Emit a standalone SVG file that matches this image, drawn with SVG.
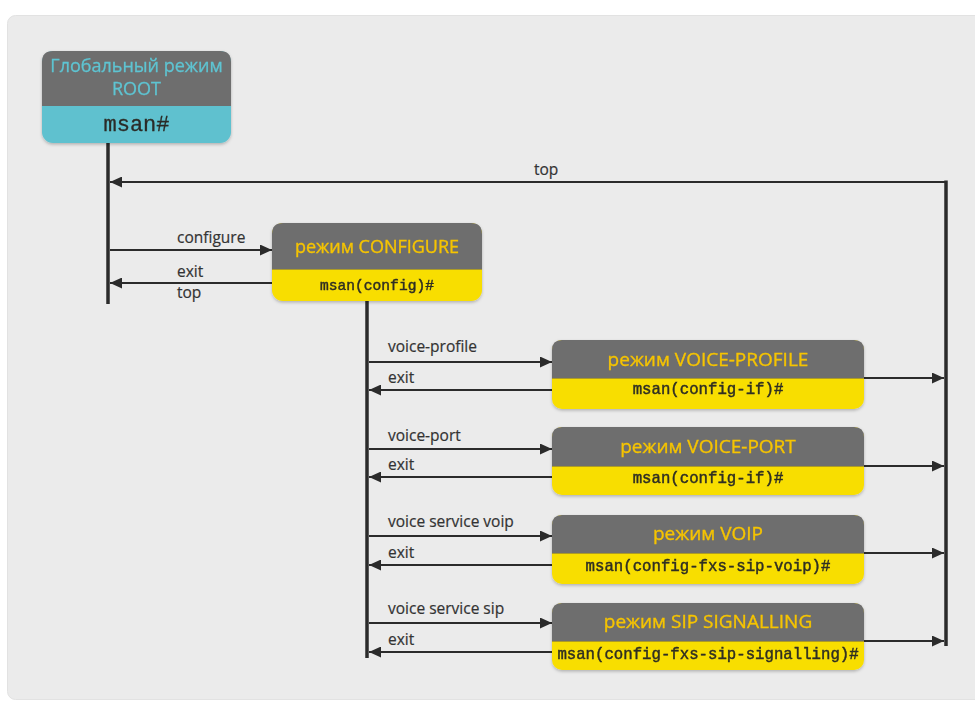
<svg xmlns="http://www.w3.org/2000/svg" width="975" height="702" viewBox="0 0 975 702">
<defs>
<marker id="ah" markerUnits="userSpaceOnUse" markerWidth="13" markerHeight="11" refX="12" refY="5.5" orient="auto">
<path d="M0,0 L12,5.5 L0,11 z" fill="#2b2b2b"/>
</marker>
<filter id="sh" x="-10%" y="-10%" width="120%" height="130%">
<feDropShadow dx="0" dy="1.5" stdDeviation="1.5" flood-color="#000" flood-opacity="0.25"/>
</filter>
<style>
.hdr{fill:#6e6e6e}
.yel{fill:#f8de06}
.tea{fill:#5fc1cf}
.sep{stroke:#7a7040;stroke-width:1;opacity:0.6}
.ht{font-family:"Open Sans","Liberation Sans",sans-serif;font-size:19px;fill:#f6c400;stroke:#f6c400;stroke-width:0.35;text-anchor:middle}
.rt{font-family:"Open Sans","Liberation Sans",sans-serif;font-size:18px;fill:#5ec4d2;stroke:#5ec4d2;stroke-width:0.3;text-anchor:middle}
.mono{font-family:"Liberation Mono","DejaVu Sans Mono",monospace;font-size:15.7px;fill:#2e2e22;stroke:#2e2e22;stroke-width:0.45;text-anchor:middle}
.lbl{font-family:"Open Sans","Liberation Sans",sans-serif;font-size:15.5px;fill:#333;stroke:#333;stroke-width:0.2}
.bar{stroke:#2b2b2b;stroke-width:3.5;fill:none}
.arr{stroke:#2b2b2b;stroke-width:2;fill:none;marker-end:url(#ah)}
</style>
</defs>
<rect x="0" y="0" width="975" height="702" fill="#ffffff"/>
<rect x="7.5" y="15.5" width="985" height="684" rx="8" fill="#ebebeb" stroke="#e2e2e2" stroke-width="1"/>

<g id="connectors">
<line class="bar" x1="108" y1="142" x2="108" y2="304"/>
<line class="bar" x1="946" y1="180.5" x2="946" y2="646"/>
<path class="arr" d="M946,182 H110"/>
<path class="arr" d="M110,250 H272"/>
<path class="arr" d="M272,283 H110"/>
<line class="bar" x1="367" y1="301" x2="367" y2="658"/>
<path class="arr" d="M369,362 H552"/>
<path class="arr" d="M552,390 H369"/>
<path class="arr" d="M369,449 H552"/>
<path class="arr" d="M552,477 H369"/>
<path class="arr" d="M369,536 H552"/>
<path class="arr" d="M552,565 H369"/>
<path class="arr" d="M369,623 H552"/>
<path class="arr" d="M552,652 H369"/>
<path class="arr" d="M864,378 H944"/>
<path class="arr" d="M864,466 H944"/>
<path class="arr" d="M864,553 H944"/>
<path class="arr" d="M864,641 H944"/>
<text class="lbl" x="534" y="175">top</text>
<text class="lbl" x="177" y="243">configure</text>
<text class="lbl" x="177" y="277">exit</text>
<text class="lbl" x="177" y="298">top</text>
<text class="lbl" x="388" y="352">voice-profile</text>
<text class="lbl" x="388" y="383">exit</text>
<text class="lbl" x="388" y="441">voice-port</text>
<text class="lbl" x="388" y="470">exit</text>
<text class="lbl" x="388" y="527">voice service voip</text>
<text class="lbl" x="388" y="558">exit</text>
<text class="lbl" x="388" y="614">voice service sip</text>
<text class="lbl" x="388" y="645">exit</text>
</g>

<g id="node-root" filter="url(#sh)">
<rect class="tea" x="42" y="51" width="189" height="92" rx="11"/>
<path class="hdr" d="M42,106 V62 Q42,51 53,51 H220 Q231,51 231,62 V106 Z"/>
<text class="rt" x="136.5" y="72">Глобальный режим</text>
<text class="rt" x="136.5" y="95">ROOT</text>
<text class="mono" x="136.5" y="131" style="font-size:22px;stroke-width:0.3;fill:#2a2a2a">msan#</text>
</g>

<g id="node-configure" filter="url(#sh)">
<rect class="yel" x="272" y="223" width="210" height="78" rx="11"/>
<path class="hdr" d="M272,269 V234 Q272,223 283,223 H471 Q482,223 482,234 V269 Z"/>
<line class="sep" x1="272" y1="269.5" x2="482" y2="269.5"/>
<text class="ht" x="377" y="253" style="font-size:18px">режим CONFIGURE</text>
<text class="mono" x="377" y="290" style="font-size:14.6px">msan(config)#</text>
</g>

<g id="node-voice-profile" filter="url(#sh)">
<rect class="yel" x="552" y="340" width="312" height="69" rx="10"/>
<path class="hdr" d="M552,378 V350 Q552,340 562,340 H854 Q864,340 864,350 V378 Z"/>
<line class="sep" x1="552" y1="378.5" x2="864" y2="378.5"/>
<text class="ht" x="708" y="366">режим VOICE-PROFILE</text>
<text class="mono" x="708" y="394">msan(config-if)#</text>
</g>

<g id="node-voice-port" filter="url(#sh)">
<rect class="yel" x="552" y="427" width="312" height="68" rx="10"/>
<path class="hdr" d="M552,466 V437 Q552,427 562,427 H854 Q864,427 864,437 V466 Z"/>
<line class="sep" x1="552" y1="466.5" x2="864" y2="466.5"/>
<text class="ht" x="708" y="453">режим VOICE-PORT</text>
<text class="mono" x="708" y="483">msan(config-if)#</text>
</g>

<g id="node-voip" filter="url(#sh)">
<rect class="yel" x="552" y="515" width="312" height="69" rx="10"/>
<path class="hdr" d="M552,553 V525 Q552,515 562,515 H854 Q864,515 864,525 V553 Z"/>
<line class="sep" x1="552" y1="553.5" x2="864" y2="553.5"/>
<text class="ht" x="708" y="540">режим VOIP</text>
<text class="mono" x="708" y="571">msan(config-fxs-sip-voip)#</text>
</g>

<g id="node-sip-signalling" filter="url(#sh)">
<rect class="yel" x="552" y="603" width="312" height="67" rx="10"/>
<path class="hdr" d="M552,641 V613 Q552,603 562,603 H854 Q864,603 864,613 V641 Z"/>
<line class="sep" x1="552" y1="641.5" x2="864" y2="641.5"/>
<text class="ht" x="708" y="628">режим SIP SIGNALLING</text>
<text class="mono" x="708" y="659">msan(config-fxs-sip-signalling)#</text>
</g>
</svg>
